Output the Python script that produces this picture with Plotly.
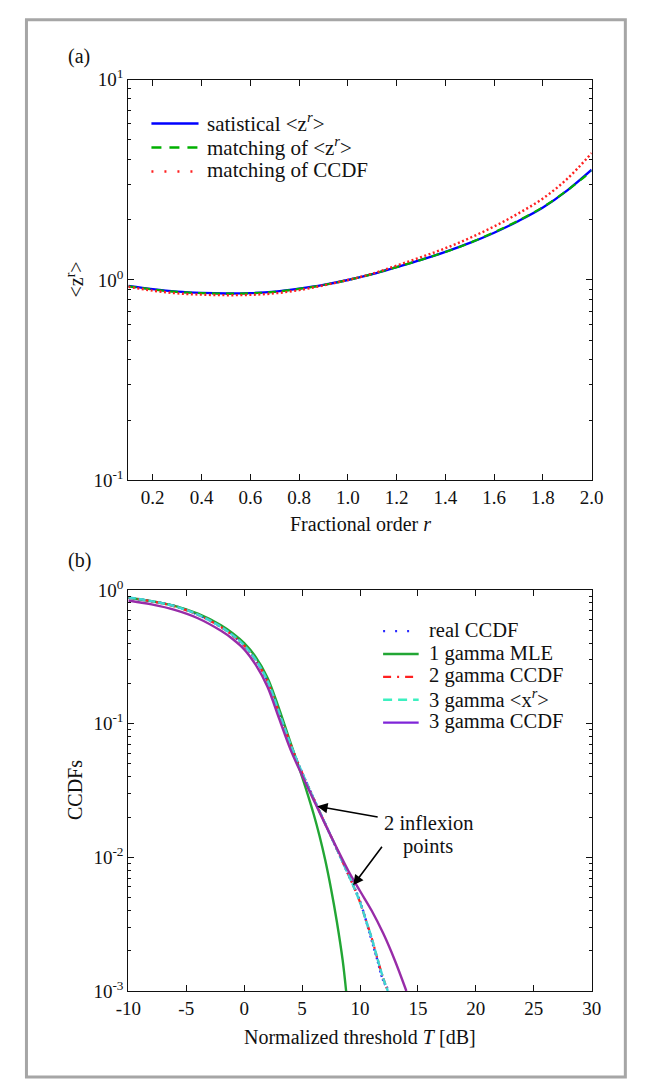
import numpy as np
import plotly.graph_objects as go

W, H = 646, 1091
FONT = "Liberation Serif, Times New Roman, serif"
INK = "#111111"
FRAME = "#a6a6a6"

# ============================================================
# DATA -- panel (a): fractional moments <z^r>
# ============================================================
r_order = [0.1, 0.2, 0.3, 0.4, 0.5, 0.6, 0.7, 0.8, 0.9, 1.0,
           1.1, 1.2, 1.3, 1.4, 1.5, 1.6, 1.7, 1.8, 1.9, 2.0]
z_statistical = [0.935, 0.90, 0.875, 0.862, 0.857, 0.86, 0.875, 0.905, 0.945, 1.0,
                 1.07, 1.16, 1.26, 1.38, 1.53, 1.72, 1.97, 2.30, 2.80, 3.55]
z_match_moment = [0.93, 0.897, 0.872, 0.86, 0.855, 0.858, 0.873, 0.903, 0.944, 1.0,
                  1.07, 1.16, 1.26, 1.38, 1.53, 1.73, 1.98, 2.31, 2.80, 3.50]
z_match_ccdf = [0.925, 0.885, 0.858, 0.845, 0.84, 0.843, 0.858, 0.89, 0.94, 1.0,
                1.075, 1.18, 1.30, 1.44, 1.62, 1.85, 2.15, 2.55, 3.20, 4.30]

# ============================================================
# DATA -- panel (b): CCDFs vs normalized threshold (dB)
# ============================================================
T_real = [-10, -8, -6, -5, -4, -2, -1, 0, 1, 2, 3, 4, 5, 6, 7, 8, 9,
          9.5, 10, 10.5, 11, 11.5, 12, 12.5]
ccdf_real = [0.875, 0.825, 0.76, 0.71, 0.655, 0.53, 0.46, 0.385, 0.30, 0.21, 0.122,
             0.07, 0.043, 0.0275, 0.0178, 0.0115, 0.0074,
             0.006, 0.0047, 0.0034, 0.0024, 0.0017, 0.0012, 0.001]

T_1g = [-10, -8, -6, -4, -2, -1, 0, 1, 2, 3, 4, 5, 6, 6.5, 7, 7.5, 8, 8.5, 8.8]
ccdf_1g_mle = [0.875, 0.825, 0.76, 0.665, 0.545, 0.475, 0.40, 0.315, 0.222, 0.13,
               0.072, 0.040, 0.021, 0.0145, 0.0095, 0.0058, 0.0033, 0.0017, 0.001]

T_3g = [-10, -8, -6, -4, -2, -1, 0, 1, 2, 3, 4, 5, 6, 7, 8, 9,
        9.5, 10, 10.5, 11, 11.5, 12, 12.4]
ccdf_2g_ccdf = [0.878, 0.823, 0.753, 0.653, 0.528, 0.458, 0.383, 0.298, 0.208, 0.121,
                0.07, 0.043, 0.0275, 0.0178, 0.0115, 0.0074,
                0.0059, 0.0046, 0.0034, 0.0025, 0.00175, 0.00125, 0.001]
ccdf_3g_moment = [0.88, 0.825, 0.755, 0.655, 0.53, 0.46, 0.385, 0.30, 0.21, 0.122,
                  0.07, 0.043, 0.0275, 0.0178, 0.0115, 0.0074,
                  0.0059, 0.0046, 0.0034, 0.0025, 0.00175, 0.00125, 0.001]

T_3c = [-10, -8, -6, -4, -2, -1, 0, 1, 2, 3, 4, 5, 6, 7, 8, 9,
        10, 11, 12, 13, 14]
ccdf_3g_ccdf = [0.835, 0.78, 0.71, 0.615, 0.495, 0.43, 0.36, 0.275, 0.19, 0.11,
                0.064, 0.041, 0.0268, 0.0176, 0.0117, 0.0079,
                0.0056, 0.0040, 0.0027, 0.0017, 0.001]

# where the two arrows point (T in dB)
inflexion_T = [6.3, 9.4]

# ============================================================
# PIXEL GEOMETRY (measured on the reference)
# ============================================================
AX_L, AX_R = 120, 602
A_TOP, A_BOT = 68, 478
B_TOP, B_BOT = 590, 1000


def px(x):
    return x / W


def py(y):
    return 1 - y / H


BLUE = "#0000ff"
GREEN_A = "#00b000"
RED = "#ff2020"
GREEN_B = "#22a634"
CYAN = "#3cd6d2"
PURPLE = "#982ca8"

fig = go.Figure()

# ---- panel (a) ----
fig.add_trace(go.Scatter(x=r_order, y=z_statistical, mode="lines", line_shape="spline",
                         line=dict(color=BLUE, width=2.4), xaxis="x", yaxis="y"))
fig.add_trace(go.Scatter(x=r_order, y=z_match_moment, mode="lines", line_shape="spline",
                         line=dict(color=GREEN_A, width=2.2, dash="8px,6px"),
                         xaxis="x", yaxis="y"))
fig.add_trace(go.Scatter(x=r_order, y=z_match_ccdf, mode="lines", line_shape="spline",
                         line=dict(color=RED, width=2.4, dash="2px,2.5px"),
                         xaxis="x", yaxis="y"))

# ---- panel (b) ----
fig.add_trace(go.Scatter(x=T_real, y=ccdf_real, mode="lines", line_shape="spline",
                         line=dict(color="#2a2aff", width=2.4, dash="2px,2.5px"),
                         xaxis="x2", yaxis="y2"))
fig.add_trace(go.Scatter(x=T_1g, y=ccdf_1g_mle, mode="lines", line_shape="spline",
                         line=dict(color=GREEN_B, width=2.4), xaxis="x2", yaxis="y2"))
fig.add_trace(go.Scatter(x=T_3g, y=ccdf_2g_ccdf, mode="lines", line_shape="spline",
                         line=dict(color=RED, width=2.2, dash="6px,3px,2px,3px"),
                         xaxis="x2", yaxis="y2"))
fig.add_trace(go.Scatter(x=T_3g, y=ccdf_3g_moment, mode="lines", line_shape="spline",
                         line=dict(color=CYAN, width=2.4, dash="7px,3px"),
                         xaxis="x2", yaxis="y2"))
fig.add_trace(go.Scatter(x=T_3c, y=ccdf_3g_ccdf, mode="lines", line_shape="spline",
                         line=dict(color=PURPLE, width=2.4), xaxis="x2", yaxis="y2"))

axis_common = dict(
    showline=True, linecolor=INK, linewidth=1.2, mirror="ticks",
    ticks="inside", ticklen=6, tickcolor=INK, tickwidth=1,
    showgrid=False, zeroline=False,
    tickfont=dict(family=FONT, size=19, color=INK),
)

minor_log = [m * d for d in (0.001, 0.01, 0.1, 1) for m in range(2, 10)]

fig.update_layout(
    width=W, height=H,
    margin=dict(l=0, r=0, t=0, b=0),
    paper_bgcolor="white", plot_bgcolor="white",
    showlegend=False,
    font=dict(family=FONT, size=19, color=INK),
    xaxis=dict(
        domain=[px(AX_L), px(AX_R)], anchor="y", range=[0.1, 2.0],
        tickvals=[0.2, 0.4, 0.6, 0.8, 1.0, 1.2, 1.4, 1.6, 1.8, 2.0],
        ticktext=["0.2", "0.4", "0.6", "0.8", "1.0", "1.2", "1.4", "1.6", "1.8", "2.0"],
        **axis_common
    ),
    yaxis=dict(
        domain=[py(A_BOT), py(A_TOP)], anchor="x", type="log", range=[-1, 1],
        tickvals=[0.1, 1, 10],
        ticktext=["10<sup>-1</sup>", "10<sup>0</sup>", "10<sup>1</sup>"],
        minor=dict(tickmode="array", tickvals=minor_log, ticks="inside",
                   ticklen=3, tickcolor=INK, showgrid=False),
        **axis_common
    ),
    xaxis2=dict(
        domain=[px(AX_L), px(AX_R)], anchor="y2", range=[-10, 30],
        tickvals=[-10, -5, 0, 5, 10, 15, 20, 25, 30],
        ticktext=["-10", "-5", "0", "5", "10", "15", "20", "25", "30"],
        **axis_common
    ),
    yaxis2=dict(
        domain=[py(B_BOT), py(B_TOP)], anchor="x2", type="log", range=[-3, 0],
        tickvals=[0.001, 0.01, 0.1, 1],
        ticktext=["10<sup>-3</sup>", "10<sup>-2</sup>", "10<sup>-1</sup>", "10<sup>0</sup>"],
        minor=dict(tickmode="array", tickvals=minor_log, ticks="inside",
                   ticklen=3, tickcolor=INK, showgrid=False),
        **axis_common
    ),
)

# outer grey frame
fig.add_shape(type="rect", xref="paper", yref="paper",
              x0=px(14), x1=px(637), y0=py(1088), y1=py(7),
              line=dict(color=FRAME, width=3), fillcolor="rgba(0,0,0,0)")


def text(x, y, s, size=20, xanchor="center", angle=0):
    fig.add_annotation(x=px(x), y=py(y), xref="paper", yref="paper", text=s,
                       showarrow=False, xanchor=xanchor, yanchor="middle",
                       textangle=angle, borderpad=0,
                       font=dict(family=FONT, size=size, color=INK))


# panel labels + axis titles
text(56, 44, "(a)", xanchor="left")
text(56, 560, "(b)", xanchor="left")
text(361, 523, "Fractional order <i>r</i>")
text(361, 1047, "Normalized threshold <i>T</i> [dB]")
text(64, 273, "&lt;z<sup>r</sup>&gt;", angle=-90)
text(64, 795, "CCDFs", angle=-90)

# ---- legend (a), drawn by hand to match the original placement ----
legend_a = [
    ("satistical &lt;z<sup><i>r</i></sup>&gt;", BLUE, "solid"),
    ("matching of &lt;z<sup><i>r</i></sup>&gt;", GREEN_A, "10px,8px"),
    ("matching of CCDF", RED, "2px,11px"),
]
for i, (label, color, dash) in enumerate(legend_a):
    yy = 113 + i * 24.5
    fig.add_shape(type="line", xref="paper", yref="paper",
                  x0=px(144), x1=px(193), y0=py(yy), y1=py(yy),
                  line=dict(color=color, width=2.4, dash=dash))
    text(201, yy - 1, label, size=21, xanchor="left")

# ---- legend (b) ----
legend_b = [
    ("real CCDF", "#2a2aff", "2px,10px"),
    ("1 gamma MLE", GREEN_B, "solid"),
    ("2 gamma CCDF", RED, "8px,6px,2px,6px"),
    ("3 gamma &lt;x<sup><i>r</i></sup>&gt;", "#3cf0c0", "9px,6px"),
    ("3 gamma CCDF", "#7f25d8", "solid"),
]
for i, (label, color, dash) in enumerate(legend_b):
    yy = 632 + i * 23.4
    fig.add_shape(type="line", xref="paper", yref="paper",
                  x0=px(385), x1=px(422), y0=py(yy), y1=py(yy),
                  line=dict(color=color, width=2.4, dash=dash))
    text(432, yy - 1, label, size=20.5, xanchor="left")

# ---- inflexion point callout ----
text(432, 828, "2 inflexion", size=20.5)
text(432, 852, "points", size=20.5)
tails = [(62, 11), (30, -40)]
for t, (ax, ay) in zip(inflexion_T, tails):
    yv = np.interp(t, T_3g, np.log10(ccdf_3g_moment))
    fig.add_annotation(x=t, y=yv, xref="x2", yref="y2", text="",
                       showarrow=True, arrowhead=2, arrowsize=1.3, arrowwidth=1.6,
                       arrowcolor="black", ax=ax, ay=ay, standoff=0)

# the page should start at (0, 0) like the original picture
fig.write_html("out.html", config={"displayModeBar": False},
               post_script="document.body.style.margin='0';")
